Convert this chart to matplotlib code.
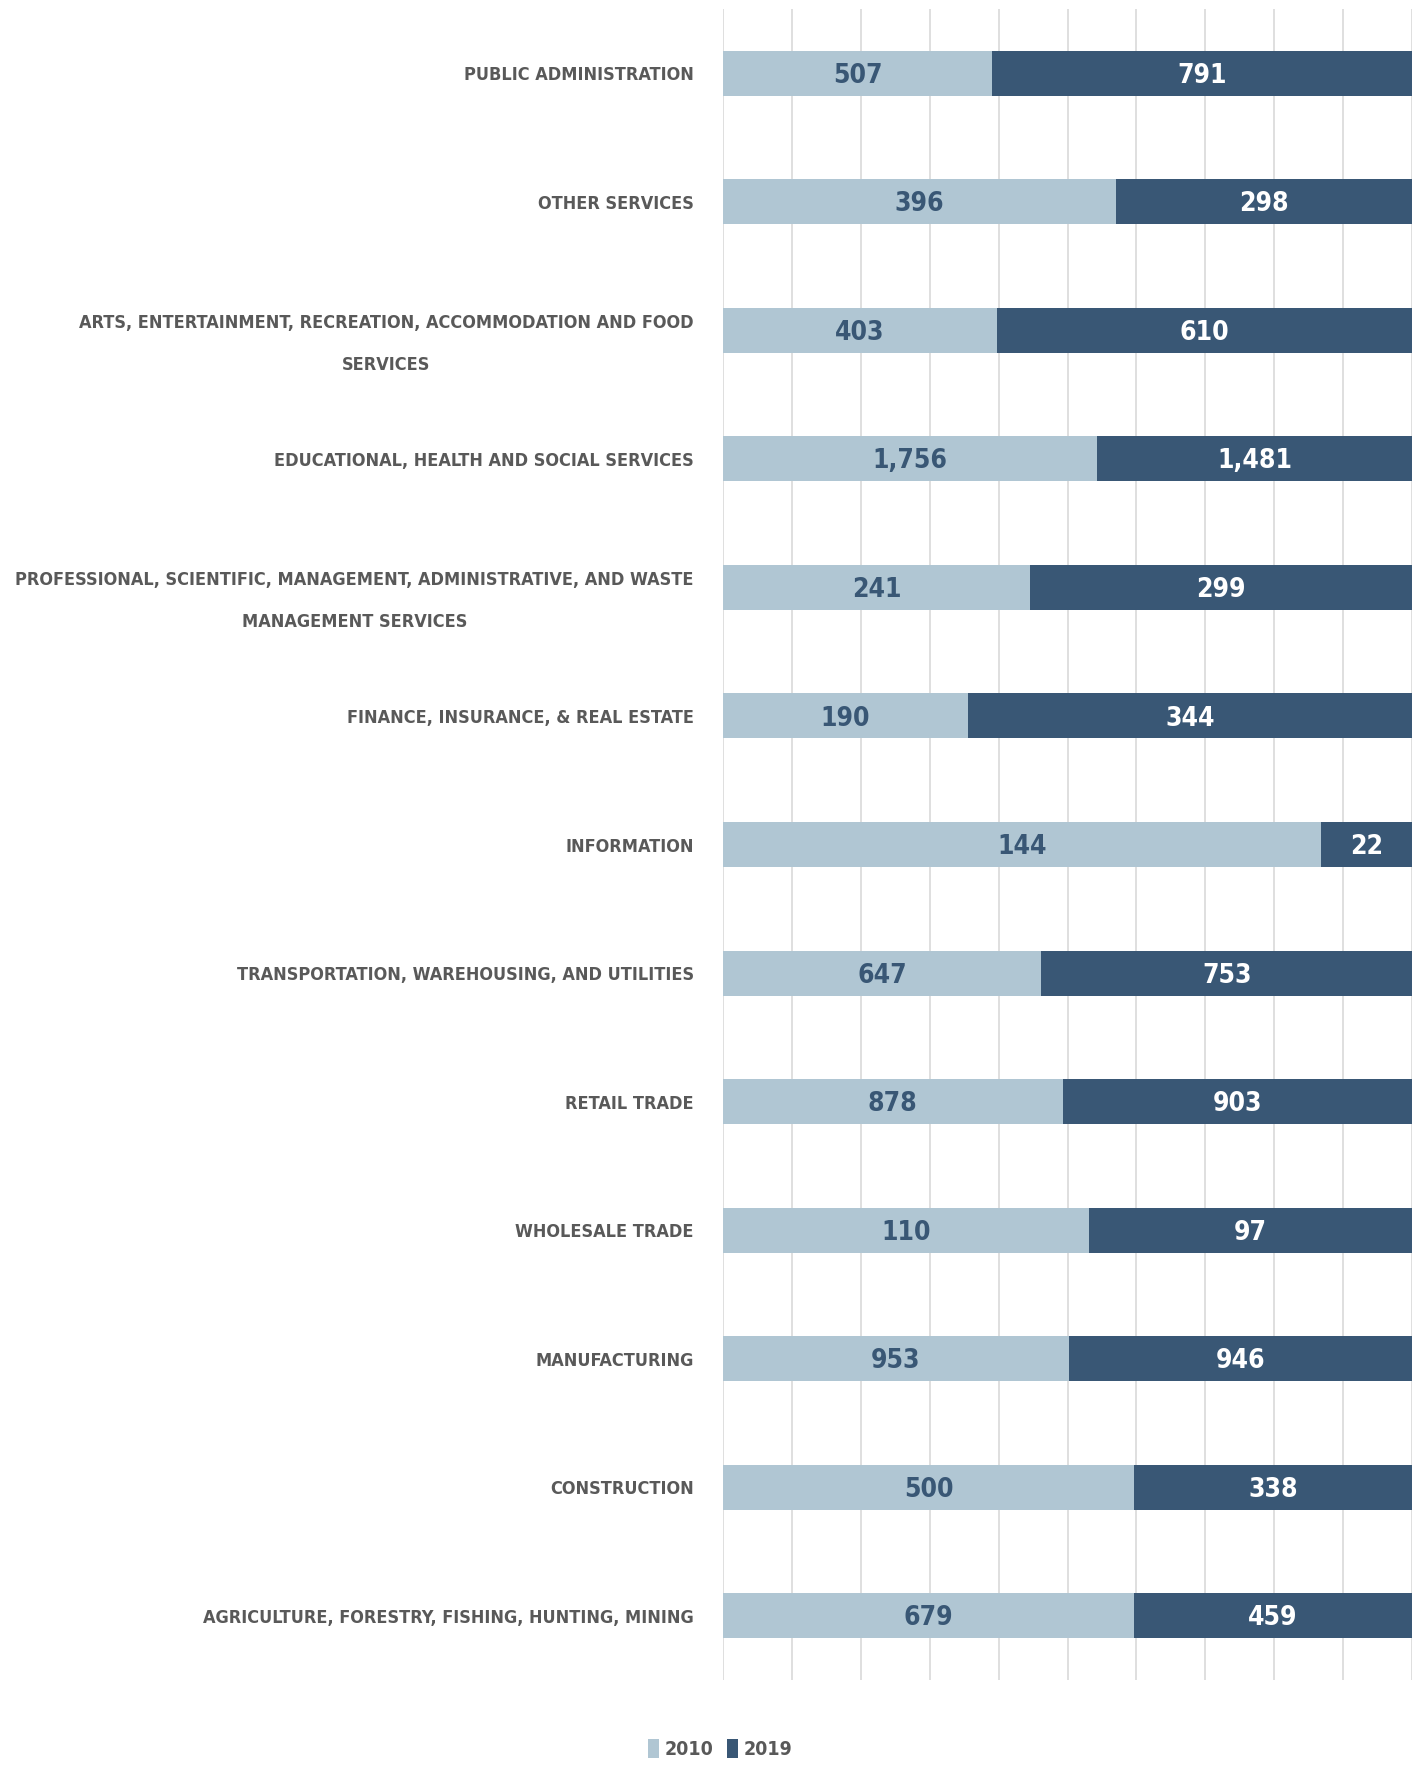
import matplotlib
matplotlib.use("Agg")
import matplotlib.pyplot as plt
from matplotlib import font_manager
import numpy as np

categories = [
    "PUBLIC ADMINISTRATION",
    "OTHER SERVICES",
    "ARTS, ENTERTAINMENT, RECREATION, ACCOMMODATION AND FOOD\nSERVICES",
    "EDUCATIONAL, HEALTH AND SOCIAL SERVICES",
    "PROFESSIONAL, SCIENTIFIC, MANAGEMENT, ADMINISTRATIVE, AND WASTE\nMANAGEMENT SERVICES",
    "FINANCE, INSURANCE, & REAL ESTATE",
    "INFORMATION",
    "TRANSPORTATION, WAREHOUSING, AND UTILITIES",
    "RETAIL TRADE",
    "WHOLESALE TRADE",
    "MANUFACTURING",
    "CONSTRUCTION",
    "AGRICULTURE, FORESTRY, FISHING, HUNTING, MINING",
]
values_2010 = [507, 396, 403, 1756, 241, 190, 144, 647, 878, 110, 953, 500, 679]
values_2019 = [791, 298, 610, 1481, 299, 344, 22, 753, 903, 97, 946, 338, 459]
series_names = ["2010", "2019"]

# pick a condensed face if one is installed
entries = font_manager.fontManager.ttflist
stretch = "normal"
family = ["DejaVu Sans"]
cond = [f for f in entries if f.name == "DejaVu Sans" and str(f.stretch).lower() in ("condensed", "semi-condensed")]
names = {f.name for f in entries}
if "Liberation Sans Narrow" in names:
    family = ["Liberation Sans Narrow", "DejaVu Sans"]
elif cond:
    stretch = "condensed"
elif "Roboto Condensed" in names:
    family = ["Roboto Condensed", "DejaVu Sans"]
plt.rcParams['font.family'] = family
plt.rcParams['font.stretch'] = stretch

c_light = "#b0c6d3"
c_dark = "#395775"
c_text = "#595959"

fig = plt.figure(figsize=(14.22, 17.68), dpi=100)
ax = fig.add_axes([723/1422, 1 - 1680/1768, (1412-723)/1422, (1680-9)/1768])

v1 = np.array(values_2010, float)
v2 = np.array(values_2019, float)
tot = v1 + v2
p1 = v1 / tot
p2 = v2 / tot
y = np.arange(len(categories))

ax.barh(y, p1, height=0.35, color=c_light, label=series_names[0], zorder=3)
ax.barh(y, p2, left=p1, height=0.35, color=c_dark, label=series_names[1], zorder=3)

vals_fs = 19
for i in range(len(categories)):
    ax.text(p1[i] / 2, y[i] + 0.02, f"{values_2010[i]:,}", ha="center", va="center",
            color=c_dark, fontsize=vals_fs, fontweight="bold", zorder=4)
    ax.text(p1[i] + p2[i] / 2, y[i] + 0.02, f"{values_2019[i]:,}", ha="center", va="center",
            color="white", fontsize=vals_fs, fontweight="bold", zorder=4)

ax.set_xlim(0, 1)
ax.set_ylim(len(categories) - 0.5, -0.5)
ax.set_xticks(np.linspace(0, 1, 11))
ax.set_xticklabels([])
ax.tick_params(axis="x", length=0)
ax.tick_params(axis="y", length=0, pad=21)
ax.grid(axis="x", color="#d9d9d9", linewidth=1.2, zorder=0)
ax.set_yticks(y)
ax.set_yticklabels(categories, fontsize=20, fontweight="bold", color=c_text,
                   multialignment="center", linespacing=2.7)
for s in ax.spines.values():
    s.set_visible(False)

# fit the longest label into the space left of the axes
fig.canvas.draw()
r = fig.canvas.get_renderer()
maxw = max(t.get_window_extent(r).width for t in ax.get_yticklabels())
fs = min(24, 20 * 676 / maxw)
for t in ax.get_yticklabels():
    t.set_fontsize(fs)

leg = fig.legend(loc="center", bbox_to_anchor=(720/1422, 1 - 1749/1768), ncol=2,
                 frameon=False, fontsize=14, handlelength=0.55, handleheight=1.1,
                 handletextpad=0.3, columnspacing=0.7)
for t in leg.get_texts():
    t.set_color(c_text)
    t.set_fontweight("bold")

fig.savefig("out.png", dpi=100)
